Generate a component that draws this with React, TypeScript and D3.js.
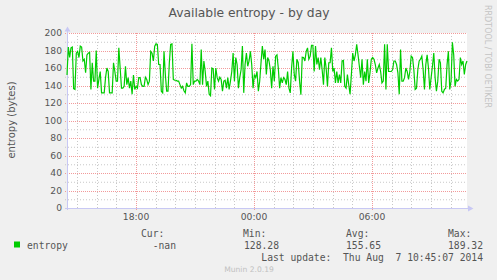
import React from "react";
import * as d3 from "d3";

const title = "Available entropy - by day";
const yLabel = "entropy (bytes)";
const seriesName = "entropy";
const yTicks = [0, 20, 40, 60, 80, 100, 120, 140, 160, 180, 200];
const yMinor = [10, 30, 50, 70, 90, 110, 130, 150, 170, 190];
// x in hours relative to midnight (Aug 7)
const startHour = -9.51;
const endHour = 10.83;
const xMajor = [-6, 0, 6];
const xMajorLabels = ["18:00", "00:00", "06:00"];
const xMinor = [-9, -8, -7, -5, -4, -3, -2, -1, 1, 2, 3, 4, 5, 7, 8, 9, 10];
const statLabels = ["Cur:", "Min:", "Avg:", "Max:"];
const statValues = ["-nan", "128.28", "155.65", "189.32"];
const lastUpdate = "Last update:  Thu Aug  7 10:45:07 2014";
const footer = "Munin 2.0.19";
const watermark = "RRDTOOL / TOBI OETIKER";

const values = [
  152, 184, 172, 183, 184, 136.5, 135.5, 177, 179, 172,
  185, 184, 168, 170, 154.5, 175, 177, 178, 135.5, 166,
  145, 145, 180, 137, 147, 156, 131.6, 131.6, 131.6, 149,
  160, 156, 131.6, 131.6, 131.6, 166, 156, 145, 145, 183,
  160, 137, 137, 139, 162, 141, 149, 137, 145, 130,
  152, 135.5, 139, 137, 149, 149, 141, 139, 139, 149.5,
  147, 141, 145, 179, 177, 168, 185, 187.6, 187, 164,
  164, 133.5, 131.6, 179, 152.6, 133.5, 133.5, 166, 187, 187.6,
  147, 146, 146, 145, 145, 141, 137, 139, 134, 131.6,
  143, 139, 139, 141, 187.6, 141, 145, 145, 147, 145, 141,
  181, 141, 168, 156, 139, 145, 130, 128.3, 160, 159,
  135.5, 160, 149, 145, 149.5, 147, 133.5, 145, 146, 137,
  149, 135.5, 145, 156, 177, 145, 172, 164, 137, 149,
  158, 185, 131.6, 164, 177, 162, 168, 179, 164, 137,
  152.6, 149, 156, 133.5, 145, 166, 185, 170, 181, 152.6,
  172, 168, 158, 137, 162, 145, 173.5, 175, 160, 137,
  149, 143, 149, 147, 141, 156, 137, 131.6, 160, 179,
  152.6, 145, 170, 166, 145, 129.5, 172.4, 172, 168, 179,
  183, 170, 173.5, 186, 186, 156, 185, 164, 172, 158,
  172, 158, 141, 172, 160, 139, 166, 166, 183, 156, 160,
  143, 156, 143, 152.6, 143, 168, 168.6, 139, 137, 152.6,
  141, 130, 152.6, 177, 168, 175, 187, 175, 162, 149,
  170, 141, 156, 145, 170, 143, 154.5, 170, 172, 170,
  164, 154.5, 160, 164, 156, 143, 145, 187, 135.5, 187,
  156, 156, 156, 158, 168, 168, 164, 154.5, 130, 181,
  145, 145, 149, 160, 156, 147, 156, 173.5, 172, 158,
  135.5, 137, 158, 168, 170, 173.5, 158, 135.5, 164, 175,
  160, 135.5, 149, 162, 177, 149, 133.5, 145, 170, 166,
  133.5, 131.6, 135.5, 137, 164, 179, 135.5, 145, 189.3, 175,
  139, 147, 145, 147, 172, 164, 168, 152.6, 164, 168,
];

const W = 497;
const H = 280;
const L = 67, R = 467, T = 33, B = 208;

export default function App() {
  const x = d3.scaleLinear().domain([startHour, endHour]).range([L, R]);
  const y = d3.scaleLinear().domain([0, 200]).range([B, T]);
  const n = values.length;
  const pts = values.map((v, i) => ({ t: startHour + (i * (endHour - startHour)) / (n - 1), v }));
  const line = d3.line<{ t: number; v: number }>().x((d) => x(d.t)).y((d) => y(d.v));
  const sans = "DejaVu Sans, sans-serif";
  const mono = "DejaVu Sans Mono, monospace";
  const txt = "#555";
  const major = "#f29a9a";
  const minor = "#c8c8c8";
  const axisCol = "#c8c8f4";
  const statLabelX = [141, 243, 346, 448];
  const statValueX = [176, 279, 381, 483];
  return (
    <svg width={W} height={H} style={{ position: "absolute", left: 0, top: 0 }}>
      <rect x={0} y={0} width={W} height={H} fill="#f0f0f0" />
      <rect x={L} y={T} width={R - L} height={B - T} fill="#ffffff" />
      <text x={249} y={17} textAnchor="middle" fontFamily={sans} fontSize={12.3} fill={txt}>{title}</text>
      {/* minor grid */}
      {yMinor.map((v) => (
        <line key={"ym" + v} x1={L - 2} x2={R} y1={y(v) + 0.5} y2={y(v) + 0.5} stroke={minor} strokeDasharray="1,2" />
      ))}
      {xMinor.map((h) => (
        <line key={"xm" + h} x1={Math.round(x(h)) + 0.5} x2={Math.round(x(h)) + 0.5} y1={T} y2={B + 2} stroke={minor} strokeDasharray="1,2" />
      ))}
      {/* major grid */}
      {yTicks.map((v) => (
        <line key={"yM" + v} x1={L - 2} x2={R} y1={Math.round(y(v)) + 0.5} y2={Math.round(y(v)) + 0.5} stroke={major} strokeDasharray="1,1" />
      ))}
      {xMajor.map((h) => (
        <line key={"xM" + h} x1={Math.round(x(h)) + 0.5} x2={Math.round(x(h)) + 0.5} y1={T} y2={B + 2} stroke={major} strokeDasharray="1,1" />
      ))}
      {yTicks.map((v) => (
        <text key={"yl" + v} x={62} y={y(v) + 3.3} textAnchor="end" fontFamily={sans} fontSize={9.2} fill={txt}>{v}</text>
      ))}
      {xMajor.map((h, i) => (
        <text key={"xl" + h} x={x(h)} y={220} textAnchor="middle" fontFamily={sans} fontSize={9.2} fill={txt}>{xMajorLabels[i]}</text>
      ))}
      {/* axes */}
      <line x1={L + 0.5} x2={L + 0.5} y1={B + 2} y2={29} stroke={axisCol} />
      <line x1={L - 2} x2={470} y1={B + 0.5} y2={B + 0.5} stroke={axisCol} />
      <path d={`M${L - 2.5},${31.5}L${L + 0.5},${26.5}L${L + 3.5},${31.5}Z`} fill={axisCol} />
      <path d={`M${468},${B - 2.5}L${473.5},${B + 0.5}L${468},${B + 3.5}Z`} fill={axisCol} />
      {/* data */}
      <path d={line(pts) || ""} fill="none" stroke="#00cc00" strokeWidth={1.2} />
      {/* y label */}
      <text transform={`translate(14.5,120) rotate(-90)`} textAnchor="middle" fontFamily={sans} fontSize={10} fill={txt}>{yLabel}</text>
      {/* watermark */}
      <text transform={`translate(485,5) rotate(90)`} fontFamily={sans} fontSize={9} fill="#c4c4c4" textLength={103} lengthAdjust="spacingAndGlyphs">{watermark}</text>
      {/* legend */}
      <rect x={14} y={241.5} width={6} height={6} fill="#00cc00" />
      <text x={27} y={248.5} fontFamily={mono} fontSize={9.7} fill={txt}>{seriesName}</text>
      {statLabels.map((s, i) => (
        <text key={"sl" + i} x={statLabelX[i]} y={236.5} fontFamily={mono} fontSize={9.7} fill={txt}>{s}</text>
      ))}
      {statValues.map((s, i) => (
        <text key={"sv" + i} x={statValueX[i]} y={248.5} textAnchor="end" fontFamily={mono} fontSize={9.7} fill={txt}>{s}</text>
      ))}
      <text x={483} y={261} textAnchor="end" fontFamily={mono} fontSize={9.7} fill={txt} xmlSpace="preserve" style={{ whiteSpace: "pre" }}>{lastUpdate}</text>
      <text x={249} y={272} textAnchor="middle" fontFamily={sans} fontSize={7.6} fill="#c0c0c0">{footer}</text>
    </svg>
  );
}
